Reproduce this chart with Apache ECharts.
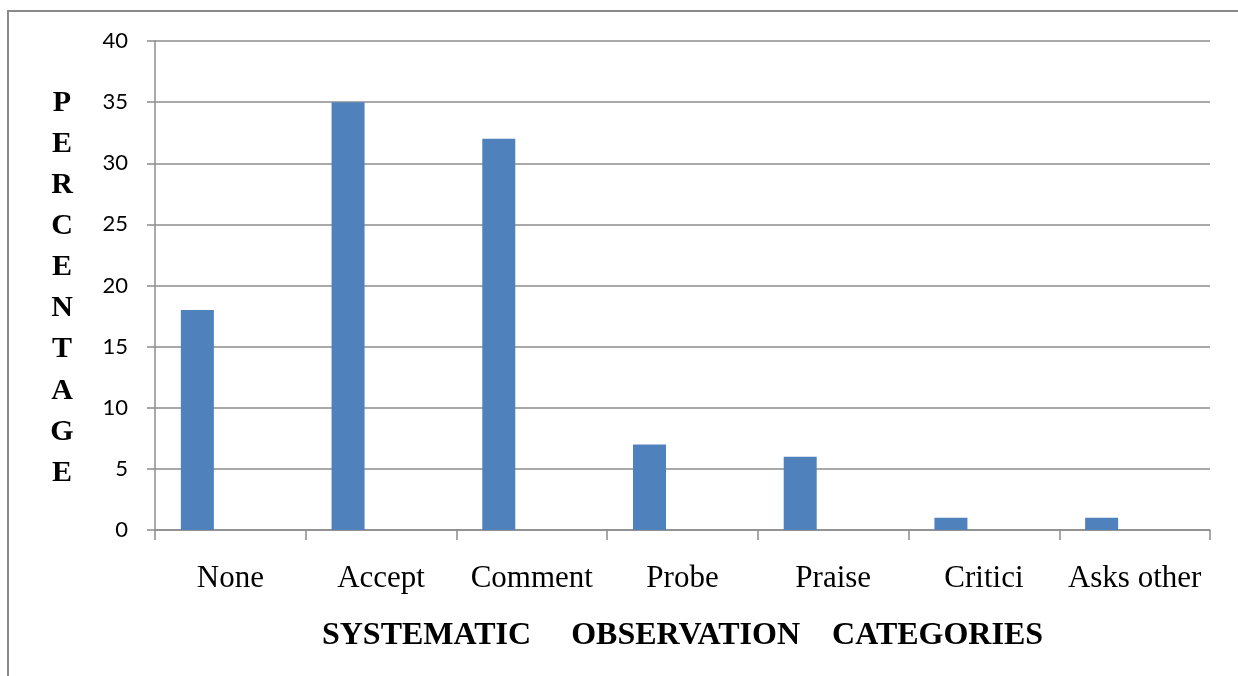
<!DOCTYPE html>
<html>
<head>
<meta charset="utf-8">
<script src="https://cdn.jsdelivr.net/npm/echarts@6/dist/echarts.min.js"></script>
<style>
  html, body { margin: 0; padding: 0; background: #ffffff; }
  #chart { width: 1238px; height: 676px; }
</style>
</head>
<body>
<div id="chart"></div>
<script>
// Observation categories and the share (%) recorded for each
const categories = ['None', 'Accept', 'Comment', 'Probe', 'Praise', 'Critici', 'Asks other'];
const percentages = [18, 35, 32, 7, 6, 1, 1];
// Two further series slots in each cluster carry no values
const emptySeriesA = [];
const emptySeriesB = [];
const yTicks = { min: 0, max: 40, interval: 5 };
const xTitle = 'SYSTEMATIC     OBSERVATION    CATEGORIES';
const yTitle = 'PERCENTAGE';

const axisGray = '#8c8c8c';
const chart = echarts.init(document.getElementById('chart'), null, { renderer: 'canvas' });

chart.setOption({
  animation: false,
  backgroundColor: '#ffffff',
  grid: { left: 155, right: 28, top: 41, bottom: 146, containLabel: false },
  xAxis: {
    type: 'category',
    data: categories,
    boundaryGap: true,
    axisLine: { show: true, lineStyle: { color: axisGray, width: 1.5 } },
    axisTick: { show: true, interval: 0, alignWithLabel: false, length: 10, lineStyle: { color: axisGray, width: 1.5 } },
    axisLabel: {
      interval: 0,
      hideOverlap: false,
      color: '#000000',
      fontFamily: 'Liberation Serif',
      fontSize: 31,
      margin: 33
    },
    name: xTitle,
    nameLocation: 'middle',
    nameGap: 90,
    nameTextStyle: {
      color: '#000000',
      fontFamily: 'Liberation Serif',
      fontWeight: 'bold',
      fontSize: 32
    }
  },
  yAxis: {
    type: 'value',
    min: yTicks.min,
    max: yTicks.max,
    interval: yTicks.interval,
    axisLine: { show: true, lineStyle: { color: axisGray, width: 1.5 } },
    axisTick: { show: true, length: 8, lineStyle: { color: axisGray, width: 1.5 } },
    splitLine: { show: true, lineStyle: { color: axisGray, width: 1.5 } },
    axisLabel: {
      color: '#000000',
      fontFamily: 'Lato',
      fontSize: 22,
      margin: 27
    }
  },
  graphic: [
    {
      type: 'rect',
      silent: true,
      shape: { x: 8, y: 11, width: 1300, height: 700 },
      style: { fill: 'none', stroke: '#8a8a8a', lineWidth: 2 }
    },
    {
      // vertical axis title, one letter per line, centred on the plot height
      type: 'text',
      silent: true,
      x: 62,
      y: 288,
      style: {
        text: yTitle.split('').join('\n'),
        fontFamily: 'Liberation Serif',
        fontWeight: 'bold',
        fontSize: 30,
        lineHeight: 41.1,
        fill: '#000000',
        align: 'center',
        verticalAlign: 'middle'
      }
    }
  ],
  series: [
    {
      type: 'bar',
      data: percentages,
      barGap: '0%',
      barCategoryGap: '34.3%',
      itemStyle: { color: '#4f81bd' }
    },
    { type: 'bar', data: emptySeriesA, barGap: '0%', barCategoryGap: '34.3%' },
    { type: 'bar', data: emptySeriesB, barGap: '0%', barCategoryGap: '34.3%' }
  ]
});
</script>
</body>
</html>
